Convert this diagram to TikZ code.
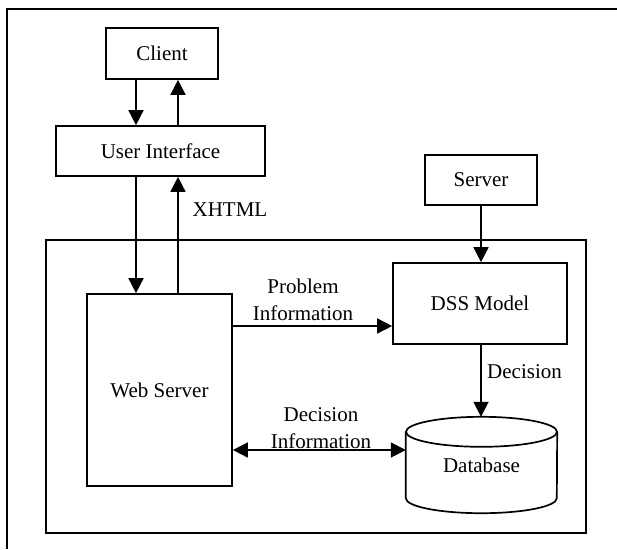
\documentclass[tikz,border=0pt]{standalone}
\usepackage{fontspec}
\setmainfont{Liberation Serif}
\usetikzlibrary{arrows.meta}
\tikzset{
  box/.style={draw, line width=1.7pt, rectangle, inner sep=0pt, font=\fontsize{21}{26}\selectfont},
  lbl/.style={inner sep=0pt, align=center, font=\fontsize{21}{27}\selectfont},
  arr/.style={line width=1.7pt, -{Triangle[length=15pt, width=15pt]}},
  darr/.style={line width=1.7pt, {Triangle[length=15pt, width=15pt]}-{Triangle[length=15pt, width=15pt]}},
  frame/.style={line width=1.7pt}
}
\begin{document}
\begin{tikzpicture}[x=1pt, y=-1pt]
\useasboundingbox (0,0) rectangle (617,549);
% outer frame (cropped at right and bottom)
\draw[frame] (7,549) -- (7,9) -- (617,9);
% inner system frame
\node[box, minimum width=540pt, minimum height=293pt] (sys) at (316,386.5) {};
% boxes
\node[box, minimum width=112pt, minimum height=51pt] (client) at (162,53.5) {Client};
\node[box, minimum width=209pt, minimum height=50pt] (ui) at (160.5,151) {User Interface};
\node[box, minimum width=145pt, minimum height=192pt] (web) at (159.5,390) {Web Server};
\node[box, minimum width=112pt, minimum height=50pt] (server) at (481,180) {Server};
\node[box, minimum width=174pt, minimum height=81pt] (dss) at (480,303.5) {DSS Model};
% database cylinder
\node[inner sep=0pt, minimum width=151pt, minimum height=96pt, font=\fontsize{21}{26}\selectfont] (db) at (481.5,465) {Database};
\draw[line width=1.7pt] ([yshift=-15pt]db.north west) -- ([yshift=15pt]db.south west)
  arc[start angle=180, end angle=360, x radius=75.5pt, y radius=15pt]
  -- ([yshift=-15pt]db.north east);
\draw[line width=1.7pt] ([yshift=-15pt]db.north) ellipse [x radius=75.5pt, y radius=15pt];
% helper coordinates
\coordinate (xa) at (136,0);
\coordinate (xb) at (178,0);
\coordinate (yp) at (0,326);
\coordinate (yd) at (0,450);
% connectors
\draw[arr] (client.south -| xa) -- (ui.north -| xa);
\draw[arr] (ui.north -| xb) -- (client.south -| xb);
\draw[arr] (ui.south -| xa) -- (web.north -| xa);
\draw[arr] (web.north -| xb) -- (ui.south -| xb);
\draw[arr] (web.east |- yp) -- (dss.west |- yp);
\draw[arr] (server.south) -- (dss.north -| server.south);
\draw[arr] (dss.south -| server.south) -- (db.north -| server.south);
\draw[darr] (web.east |- yd) -- (db.west |- yd);
% labels
\node[lbl] (lxhtml) at (230,210) {XHTML};
\node[lbl] (lprob) at (303,300) {Problem\\Information};
\node[lbl, anchor=west] (ldec) at (487,372) {Decision};
\node[lbl] (ldecinf) at (321,428.5) {Decision\\Information};
\end{tikzpicture}
\end{document}
